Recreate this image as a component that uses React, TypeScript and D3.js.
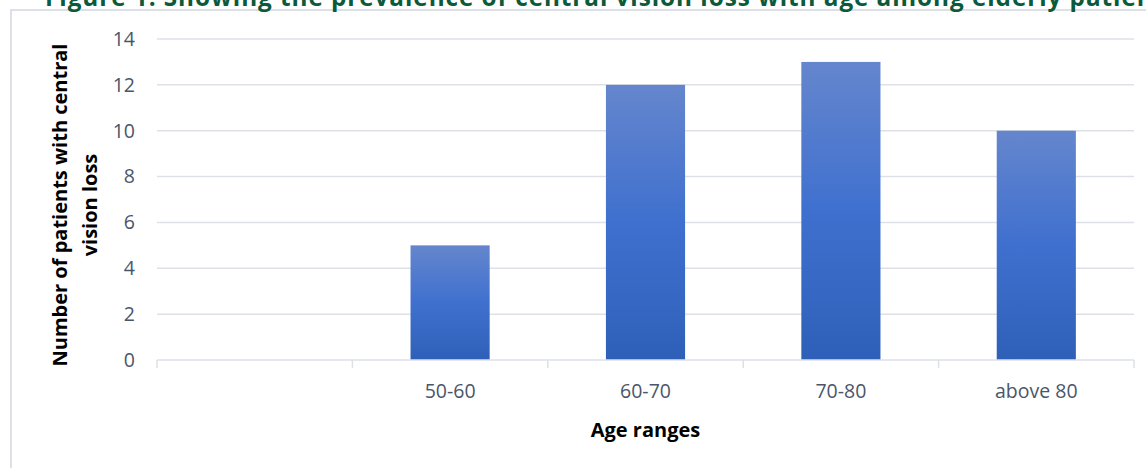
import * as React from "react";
import * as d3 from "d3";

// chart data
const categories = ["", "50-60", "60-70", "70-80", "above 80"];
const patients = [null, 5, 12, 13, 10];
const yTicks = [0, 2, 4, 6, 8, 10, 12, 14];

const title = "Figure 1: Showing the prevalence of central vision loss with age among elderly patients";
const yTitle = ["Number of patients with central", "vision loss"];
const xTitle = "Age ranges";

const W = 1146, H = 468;
const margin = { top: 39, right: 12, bottom: 108, left: 157 };
const FONT = "'Open Sans', 'Noto Sans', sans-serif";
const LABEL = "#4b5569";
const GRID = "#dde1e7";

export default function App() {
  const plotW = W - margin.left - margin.right;
  const plotH = H - margin.top - margin.bottom;

  const x = d3.scaleBand<string>()
    .domain(categories.map((c, i) => String(i)))
    .range([0, plotW])
    .paddingInner(0.595)
    .paddingOuter(0.2975);

  const band = plotW / categories.length;

  const y = d3.scaleLinear()
    .domain([0, 14])
    .range([plotH, 0]);

  return (
    <svg width={W} height={H} style={{ position: "absolute", left: 0, top: 0, background: "#fff" }}
      fontFamily={FONT}>
      <defs>
        <linearGradient id="barFill" x1="0" y1="0" x2="0" y2="1">
          <stop offset="0" stopColor="#6586cd" />
          <stop offset="0.5" stopColor="#3f70cf" />
          <stop offset="1" stopColor="#2f60b8" />
        </linearGradient>
      </defs>

      {/* frame */}
      <rect x={11} y={10} width={W + 10} height={H + 10} fill="none" stroke={GRID} strokeWidth={2} />

      <text x={45} y={6} fill="#0b5a3c" fontWeight="bold" fontSize={24.3} letterSpacing={0.95}>{title}</text>

      <g transform={`translate(${margin.left},${margin.top})`}>
        {yTicks.map(t => (
          <g key={t}>
            {t > 0 && <line x1={0} x2={plotW} y1={y(t)} y2={y(t)} stroke={GRID} strokeWidth={1.5} />}
            <text x={-22} y={y(t)} dy="0.35em" textAnchor="end" fill={LABEL} fontSize={19.5}>{t}</text>
          </g>
        ))}

        {patients.map((v, i) => v == null ? null : (
          <rect key={i} x={x(String(i))} y={y(v)} width={x.bandwidth()} height={plotH - y(v)}
            fill="url(#barFill)" />
        ))}

        {/* x axis */}
        <line x1={0} x2={plotW} y1={plotH} y2={plotH} stroke={GRID} strokeWidth={1.5} />
        {d3.range(categories.length + 1).map(i => (
          <line key={i} x1={i * band} x2={i * band} y1={plotH} y2={plotH + 8} stroke={GRID} strokeWidth={1.5} />
        ))}
        {categories.map((c, i) => (
          <text key={i} x={x(String(i))! + x.bandwidth() / 2} y={plotH + 38} textAnchor="middle"
            fill={LABEL} fontSize={19.5}>{c}</text>
        ))}
        <text x={plotW / 2} y={plotH + 77} textAnchor="middle" fontWeight="bold" fontSize={20} fill="#000">
          {xTitle}
        </text>
      </g>

      <g transform={`translate(75,205) rotate(-90)`}>
        {yTitle.map((t, i) => (
          <text key={i} x={0} y={(i - 0.5) * 30} dy="0.35em" textAnchor="middle" fontWeight="bold"
            fontSize={20} fill="#000">{t}</text>
        ))}
      </g>
    </svg>
  );
}
